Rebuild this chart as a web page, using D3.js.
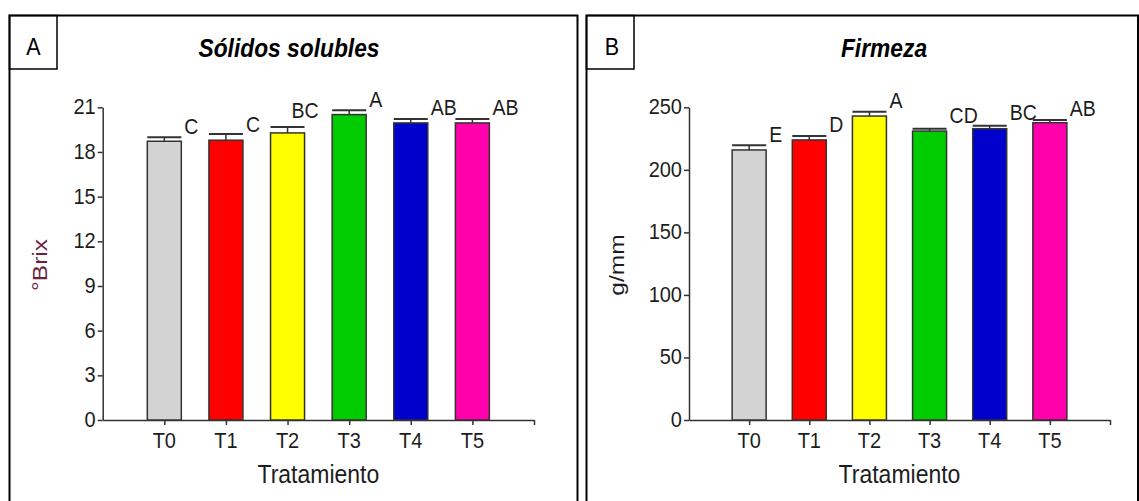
<!DOCTYPE html>
<html>
<head>
<meta charset="utf-8">
<script src="https://cdn.jsdelivr.net/npm/d3@7"></script>
<style>
  body { margin: 0; background: #fff; }
  svg { display: block; }
  text { font-family: "Liberation Sans", Arial, sans-serif; fill: #1d1d1d; }
</style>
</head>
<body>
<svg id="chart" width="1139" height="501"></svg>
<script>
// treatments
const categories = ["T0", "T1", "T2", "T3", "T4", "T5"];
const barColors = ["#d3d3d3", "#ff0000", "#ffff00", "#00cc00", "#0000cc", "#ff00aa"];

// A: solidos solubles (°Brix)
const solidosMean = [18.72, 18.79, 19.28, 20.51, 19.95, 19.95];
const solidosErr = [0.27, 0.42, 0.40, 0.29, 0.27, 0.27];
const solidosLetters = ["C", "C", "BC", "A", "AB", "AB"];
const solidosTicks = [0, 3, 6, 9, 12, 15, 18, 21];

// B: firmeza (g/mm)
const firmezaMean = [215.9, 223.9, 243.0, 231.0, 232.9, 237.7];
const firmezaErr = [3.7, 3.2, 3.4, 1.9, 2.4, 2.1];
const firmezaLetters = ["E", "D", "A", "CD", "BC", "AB"];
const firmezaTicks = [0, 50, 100, 150, 200, 250];

const svg = d3.select("#chart");
const K = 1.13; // the figure is slightly stretched vertically

function txt(g, x, y, s, size, anchor, extra) {
  const t = g.append("text")
    .attr("transform", "translate(" + x + "," + y + ") scale(1," + K + ")")
    .attr("text-anchor", anchor || "start")
    .style("font-size", size + "px")
    .text(s);
  if (extra) extra(t);
  return t;
}

const panels = [
  { left: 9.5, right: 577.5, tag: "A", tagX: 33.5, title: "Sólidos solubles", titleX: 289,
    axL: 102.7, axR: 534, max: 21, ticks: solidosTicks, mean: solidosMean, err: solidosErr,
    letters: solidosLetters, nudge: [[0, 0], [0, 2], [-16, -5], [0, 0], [0, 0], [0, 0]],
    yLabel: "°Brix", yLabelX: 46.5, yLabelColor: "#6e1e3e" },
  { left: 586.5, right: 1138, tag: "B", tagX: 612, title: "Firmeza", titleX: 884,
    axL: 689, axR: 1110, max: 250, ticks: firmezaTicks, mean: firmezaMean, err: firmezaErr,
    letters: firmezaLetters, nudge: [[0, 0], [0, 0], [0, 0], [0, -2], [0, -2], [0, -1]],
    yLabel: "g/mm", yLabelX: 623.5, yLabelColor: "#1d1d1d" }
];

const plotTop = 107.3, plotBottom = 420;

panels.forEach(p => {
  const g = svg.append("g");

  // frame and tag box
  g.append("rect")
    .attr("x", p.left).attr("y", 15.5)
    .attr("width", p.right - p.left).attr("height", 520)
    .attr("fill", "none").attr("stroke", "#000").attr("stroke-width", 2);
  g.append("rect")
    .attr("x", p.left).attr("y", 15.5)
    .attr("width", 47.5).attr("height", 53.5)
    .attr("fill", "none").attr("stroke", "#000").attr("stroke-width", 1.5);
  txt(g, p.tagX, 55, p.tag, 21.5, "middle", t => t.style("fill", "#000"));

  txt(g, p.titleX, 56.5, p.title, 22.8, "middle",
    t => t.style("font-weight", "bold").style("font-style", "italic").style("fill", "#000"));

  const x = d3.scaleLinear().domain([0, 7]).range([p.axL, p.axR]);
  const y = d3.scaleLinear().domain([0, p.max]).range([plotBottom, plotTop]);

  // y axis
  const yAxis = g.append("g")
    .attr("transform", "translate(" + p.axL + ",0)")
    .call(d3.axisLeft(y).tickValues(p.ticks).tickSize(5).tickSizeOuter(0));
  yAxis.select(".domain").attr("stroke", "#333").attr("stroke-width", 1.5);
  yAxis.selectAll(".tick line").attr("stroke", "#333").attr("stroke-width", 1.5);
  yAxis.selectAll(".tick text").remove();
  p.ticks.forEach(v => {
    txt(yAxis, -7, y(v) + 7, String(v), 20, "end");
  });

  // x axis
  const xAxis = g.append("g")
    .attr("transform", "translate(0," + plotBottom + ")")
    .call(d3.axisBottom(x).tickValues([1, 2, 3, 4, 5, 6, 7]).tickSize(5).tickSizeOuter(0).tickFormat(""));
  xAxis.select(".domain").attr("stroke", "#333").attr("stroke-width", 1.5);
  xAxis.selectAll(".tick line").attr("stroke", "#333").attr("stroke-width", 1.5);
  categories.forEach((c, i) => {
    txt(xAxis, x(i + 1), 28.3, c, 20, "middle");
  });

  txt(g, (p.axL + p.axR) / 2, 482.5, "Tratamiento", 23, "middle");

  // y label, rotated
  g.append("text")
    .attr("transform", "translate(" + p.yLabelX + ",265) rotate(-90) scale(1.17,1)")
    .attr("text-anchor", "middle")
    .style("font-size", "21px")
    .style("fill", p.yLabelColor)
    .text(p.yLabel);

  // bars
  const bw = 34;
  g.selectAll(".bar")
    .data(p.mean)
    .enter().append("rect")
    .attr("class", "bar")
    .attr("x", (d, i) => x(i + 1) - bw / 2)
    .attr("y", d => y(d))
    .attr("width", bw)
    .attr("height", d => plotBottom - y(d))
    .attr("fill", (d, i) => barColors[i])
    .attr("stroke", "#333")
    .attr("stroke-width", 1.5);

  // error bars (upper only)
  p.mean.forEach((m, i) => {
    const cx = x(i + 1), yt = y(m + p.err[i]);
    g.append("line")
      .attr("x1", cx).attr("x2", cx)
      .attr("y1", y(m)).attr("y2", yt)
      .attr("stroke", "#333").attr("stroke-width", 1.5);
    g.append("line")
      .attr("x1", cx - bw / 2).attr("x2", cx + bw / 2)
      .attr("y1", yt).attr("y2", yt)
      .attr("stroke", "#333").attr("stroke-width", 2);
    const n = p.nudge[i];
    txt(g, cx + 20 + n[0], yt - 3.5 + n[1], p.letters[i], 19.5, "start");
  });
});
</script>
</body>
</html>
